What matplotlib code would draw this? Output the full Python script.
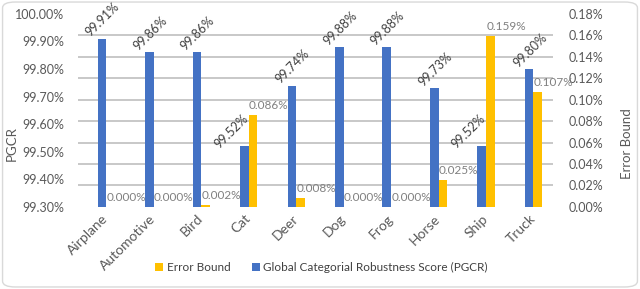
import numpy as np
import matplotlib
matplotlib.use("Agg")
import matplotlib.pyplot as plt
from matplotlib.patches import FancyBboxPatch

categories = ["Airplane", "Automotive", "Bird", "Cat", "Deer", "Dog", "Frog", "Horse", "Ship", "Truck"]
pgcr = [99.91, 99.86, 99.86, 99.52, 99.74, 99.88, 99.88, 99.73, 99.52, 99.80]
error_bound = [0.000, 0.000, 0.002, 0.086, 0.008, 0.000, 0.000, 0.025, 0.159, 0.107]

blue = "#4472C4"
yellow = "#FFC000"
plt.rcParams["font.family"] = ["Lato", "DejaVu Sans"]

fig = plt.figure(figsize=(6.4, 2.89), dpi=100)
fig.patches.append(FancyBboxPatch((0.004, 0.007), 0.992, 0.986, boxstyle="round,pad=0,rounding_size=0.02",
                                  transform=fig.transFigure, fc="none", ec="#D9D9D9", lw=1, zorder=-1))
ax = fig.add_axes([0.122, 0.284, 0.742, 0.668])
ax2 = ax.twinx()

x = np.arange(len(categories))
w = 0.18
b1 = ax.bar(x, pgcr, w, color=blue, label="Global Categorial Robustness Score (PGCR)", zorder=2)
b2 = ax2.bar(x + w, error_bound, w, color=yellow, label="Error Bound", zorder=2)

ax.set_ylim(99.3, 100.0)
ax2.set_ylim(0, 0.18)
ax.set_xlim(-0.5, len(categories) - 0.5)
ax.set_yticks(np.arange(99.3, 100.001, 0.1))
ax.set_yticklabels([f"{v:.2f}%" for v in np.arange(99.3, 100.001, 0.1)])
ax.set_yticks(np.linspace(99.3, 100.0, 10), minor=True)
ax.grid(which="minor", axis="y", color="#C4C4C4", lw=1.3)
ax.set_axisbelow(True)
ax2.set_yticks(np.arange(0, 0.1801, 0.02))
ax2.set_yticklabels([f"{v:.2f}%" for v in np.arange(0, 0.1801, 0.02)])

for a in (ax, ax2):
    for s in a.spines.values():
        s.set_visible(False)
    a.tick_params(which="both", length=0, labelsize=9, labelcolor="#595959")
ax.tick_params(axis="y", pad=10)
ax2.tick_params(axis="y", pad=11)
ax.set_xticks(x)
ax.set_xticklabels(categories, rotation=45, ha="right", rotation_mode="anchor", fontsize=10, color="#595959")
ax.tick_params(axis="x", pad=4)

ax.set_ylabel("PGCR", fontsize=9.5, color="#595959")
ax.yaxis.set_label_coords(-0.126, 0.326)
ax2.set_ylabel("Error Bound", fontsize=9.5, color="#595959")
ax2.yaxis.set_label_coords(1.143, 0.326)

# blue labels, nudged left where the yellow label would clash
nudge = {3: (-13, 15), 8: (-13, 15)}
for i, v in enumerate(pgcr):
    dx, dy = nudge.get(i, (1, 19))
    ax.annotate(f"{v:.2f}%", (x[i], v), xytext=(dx, dy), textcoords="offset pixels",
                rotation=45, ha="center", va="center", fontsize=9, color="#404040")
for i, v in enumerate(error_bound):
    ax2.annotate(f"{v:.3f}%", (x[i] + w, v), xytext=(16, 4), textcoords="offset pixels",
                 ha="center", va="bottom", fontsize=8.5, color="#808080")

h = [b2, b1]
fig.legend(h, [b.get_label() for b in h], loc="center", bbox_to_anchor=(0.502, 0.073), ncol=2,
           frameon=False, fontsize=8.5, handlelength=0.7, handleheight=0.7, columnspacing=1.8,
           handletextpad=0.3, labelcolor="#404040")

fig.savefig("out.png", dpi=100)
